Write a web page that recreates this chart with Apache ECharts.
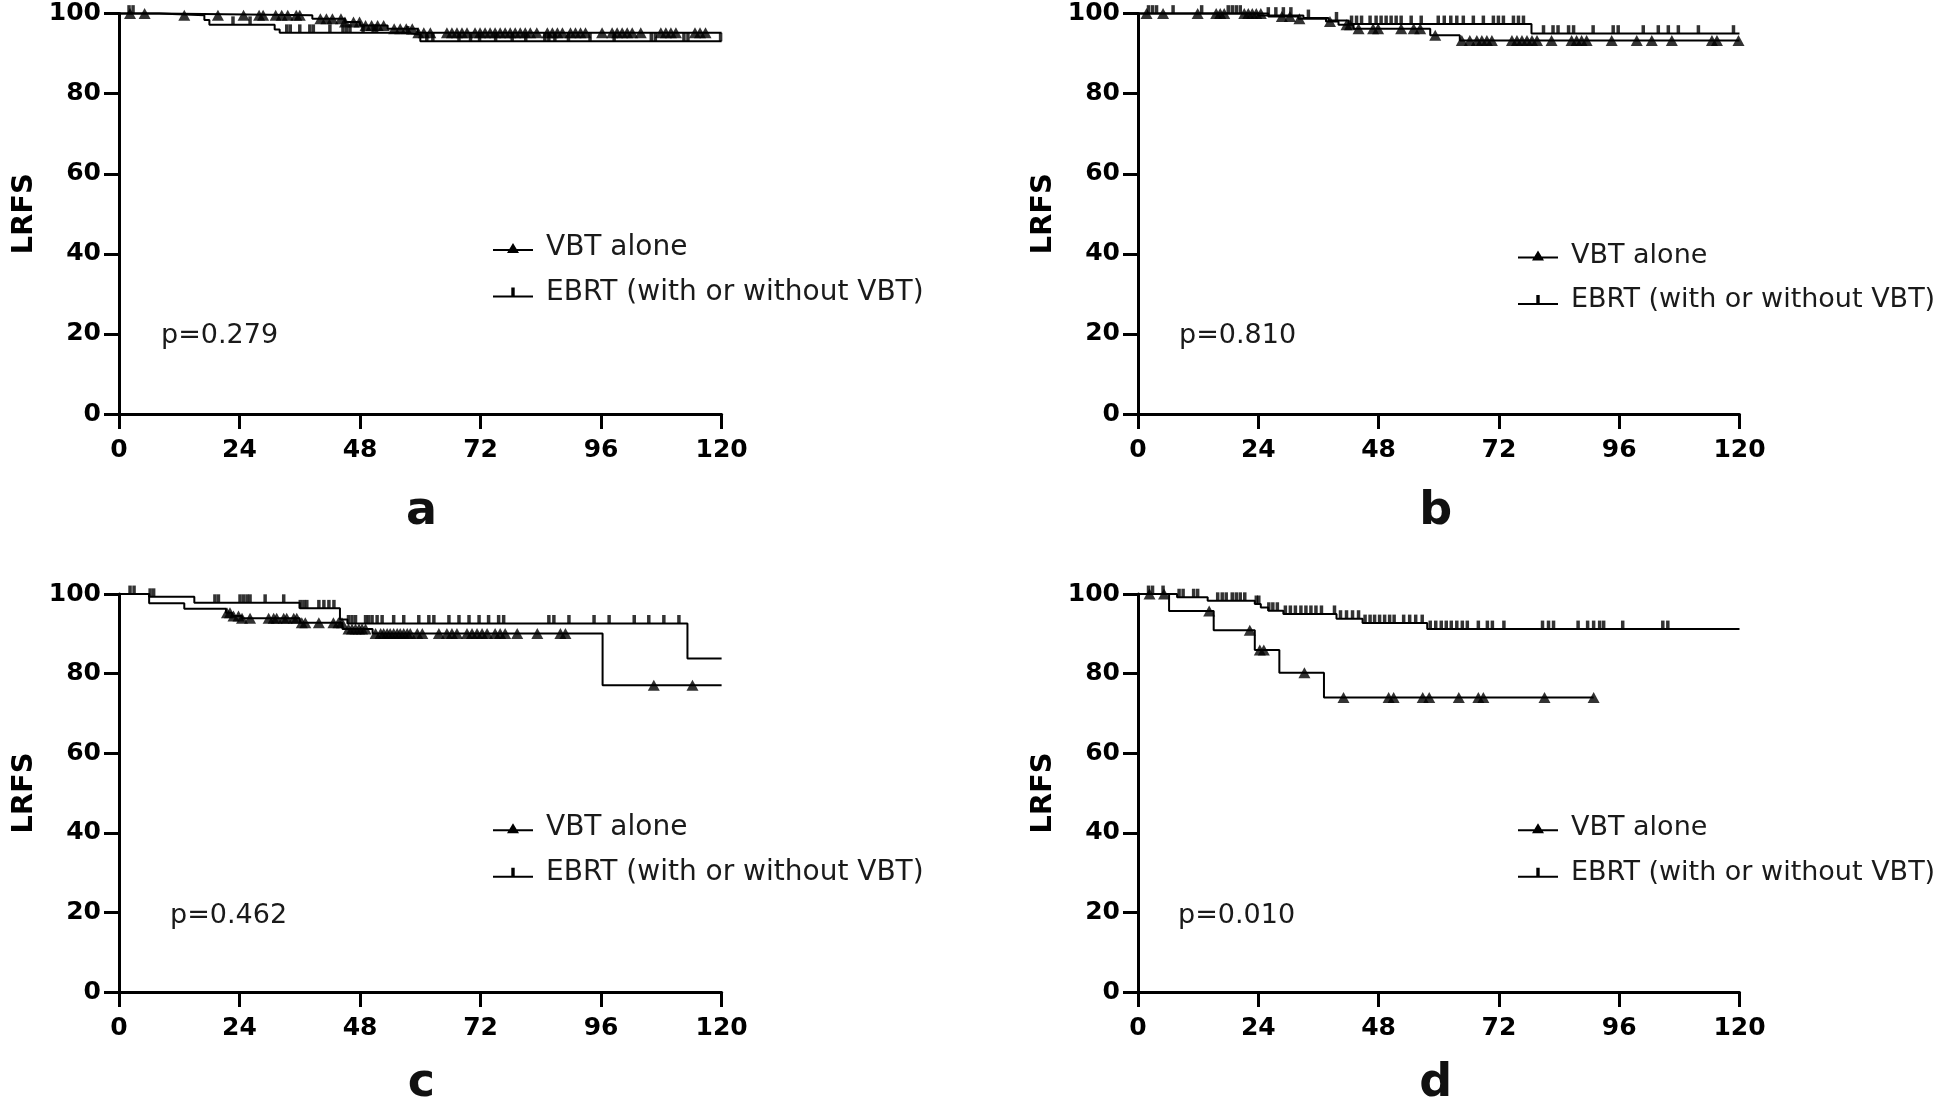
<!DOCTYPE html>
<html><head><meta charset="utf-8">
<script src="https://cdn.jsdelivr.net/npm/echarts@6/dist/echarts.min.js"></script>
<style>html,body{margin:0;padding:0;background:#fff}#c{width:1944px;height:1099px}</style>
</head><body><div id="c"></div>
<script>
// ---------- data ----------
const xTicks = [0, 24, 48, 72, 96, 120];
const yTicks = [0, 20, 40, 60, 80, 100];
const seriesNames = ['VBT alone', 'EBRT (with or without VBT)'];
const panelLetters = ['a', 'b', 'c', 'd'];
const pValues = ['p=0.279', 'p=0.810', 'p=0.462', 'p=0.010'];

// Kaplan-Meier step curves: [month, LRFS %]
const aVbtCurve  = [[0,100],[8,99.6],[38.5,98.7],[45,97.9],[48,97.0],[53.5,96.2],[59.5,95.2],[120,95.2]];
const aEbrtCurve = [[0,100],[8,99.6],[17,98.4],[18,97.2],[31,96.0],[32,95.2],[56.6,94.8],[60,93.1],[120,93.1]];
const aVbtCens  = [2.2,5.1,13,19.7,24.8,27.9,28.7,31.2,32.4,33.6,35.3,36,40.1,41.3,42.5,44.2,45,46.7,47.9,49.1,50.3,51.5,52.7,54.8,56,57.2,58.4,59.6,60.7,62,65.3,66.3,67.3,68.3,69.3,70.9,71.9,72.9,73.9,74.9,75.9,76.9,77.9,78.9,79.9,80.9,81.9,83.2,85.3,86.3,87.3,88.3,89.9,90.9,91.9,92.9,96.2,98.2,99.2,100.2,101.2,102.2,103.9,107.9,108.9,109.9,110.9,114.7,115.7,116.8];
const aEbrtCens = [2.0,2.8,22.7,26.1,33.4,34.1,36,38,38.7,42,44.6,45.3,46,48.6,50.6,51.3,57.5,61.3,62.5,67.7,70,71.8,75,78.3,81,84.8,85.6,86.8,89.5,93.8,98.6,106,106.8,112.5,113.3,119.8];

const bVbtCurve  = [[0,100],[26,99.3],[32,98.7],[37.5,98.0],[40,97.2],[43,96.2],[58.3,94.6],[64.2,93.3],[120,93.3]];
const bEbrtCurve = [[0,100],[24,99.5],[33,98.9],[38,98.3],[42,97.4],[78.5,95.0],[120,95.0]];
const bVbtCens  = [1.7,5,11.9,15.6,16.4,17.2,21.2,22,22.8,23.6,24.5,28.7,30.3,32.2,38.3,41.6,42.3,44,46.9,47.9,52.5,55,56.3,59.3,64.6,66.2,67.6,68.6,69.6,70.6,74.6,75.6,76.6,77.6,78.6,79.6,82.5,86.5,87.5,88.5,89.5,94.5,99.5,102.5,106.5,114.5,115.5,119.8];
const bEbrtCens = [2.1,2.9,3.7,7,12.7,18,18.8,19.6,20.4,26,27.5,29,30.5,34,39.6,42.6,43.6,44.6,46.3,47.5,48.5,49.5,50.5,51.5,52.5,54.5,56.5,59.9,61.1,62.4,63.6,64.9,66.9,68.9,70.9,71.9,72.9,74.9,75.9,76.9,80.9,82.8,83.8,85.9,86.9,90.8,94.8,95.8,100.8,103.8,105.8,107.8,111.8,118.8];

const cVbtCurve  = [[0,100],[6,97.7],[13,96.3],[21.3,95.3],[22.5,94.5],[24.5,93.9],[36,92.8],[44.5,91.2],[50.5,90.1],[96.3,77.1],[120,77.1]];
const cEbrtCurve = [[0,100],[6,99.3],[15,97.8],[36,96.4],[44,93.6],[45.5,92.6],[113.2,83.8],[120,83.8]];
const cVbtCens  = [21.5,22.1,22.8,23.8,24.5,26.1,29.8,30.8,31.4,32.8,33.4,34.8,35.4,36.4,37.1,39.8,42.7,43.7,44.4,45.7,46.4,47.1,47.8,48.4,49.1,51.1,52.1,52.7,53.4,54,54.7,55.4,56,56.7,57.4,58,59.4,60.4,63.7,65.3,66.3,67.3,69.3,70.3,71.3,72.3,73.3,74.9,75.9,76.9,79.3,83.3,87.9,88.9,106.5,114.2];
const cEbrtCens = [2.2,3,6.2,6.9,19.1,19.8,24.1,24.8,25.5,26.1,29.1,32.8,36.1,36.8,37.4,39.8,40.8,41.8,42.8,45.7,46.4,47.1,49.1,49.7,50.4,51.4,52.4,54.7,56.7,59.7,61.7,62.7,65.7,67.7,69.7,71.7,73.6,75.6,76.6,85.6,86.6,89.6,94.6,97.6,102.6,105.5,108.5,111.5];

const dVbtCurve  = [[0,100],[6.2,95.7],[15.1,90.9],[23.3,85.9],[28.2,80.2],[37.1,74.0],[90.9,74.0]];
const dEbrtCurve = [[0,100],[7.8,99.2],[13.9,98.3],[23.3,97.5],[24.5,96.6],[26,95.8],[29,95.0],[39.6,93.8],[44.8,92.7],[57.7,91.2],[120,91.2]];
const dVbtCens  = [2.3,5.2,14.2,22.3,24.3,25.1,33.2,41,50,51,56.8,58.1,64,67.9,68.9,81.1,90.9];
const dEbrtCens = [2.1,2.9,5,8.2,9,11.1,11.9,15.9,16.8,17.6,18.8,19.6,20.4,21.3,23.6,24.1,26.1,26.9,27.8,29.4,30.4,31.4,32.5,33.5,34.5,35.5,36.6,39.2,40.4,41.6,42.8,44,45.3,46.3,47.2,48.2,49.2,50.2,51.1,53,54.2,55.4,56.7,58.3,59.4,60.5,61.5,62.5,63.6,64.7,65.7,67.9,69.7,70.7,73,80.7,81.9,82.9,87.8,89.7,90.9,92.1,92.9,96.7,104.7,105.7];

const panels = [
  {vbt: aVbtCurve, ebrt: aEbrtCurve, vbtC: aVbtCens, ebrtC: aEbrtCens},
  {vbt: bVbtCurve, ebrt: bEbrtCurve, vbtC: bVbtCens, ebrtC: bEbrtCens},
  {vbt: cVbtCurve, ebrt: cEbrtCurve, vbtC: cVbtCens, ebrtC: cEbrtCens},
  {vbt: dVbtCurve, ebrt: dEbrtCurve, vbtC: dVbtCens, ebrtC: dEbrtCens}
];

// ---------- layout ----------
const grids = [
  {left: 119, top: 13.6, width: 602.6, height: 400.4},
  {left: 1138, top: 13.6, width: 601.5, height: 400.4},
  {left: 119, top: 594, width: 602.6, height: 398},
  {left: 1138, top: 594, width: 601.5, height: 398}
];
const legendPos = [[488, 227], [1513, 234.5], [488, 807.2], [1513, 807.2]];
const legendFont = [28, 27, 28, 27];
const pPos = [[161, 336], [1179, 336], [170, 916], [1178, 915.5]];
const letterPos = [[421.5, 512], [1435.7, 512], [421.5, 1084], [1435.7, 1084]];

function stepAt(curve, t) {
  let v = curve[0][1];
  for (const [x, y] of curve) { if (x <= t) v = y; else break; }
  return v;
}

const FONT = 'DejaVu Sans';
const INK = '#000';
const TRI_ICON = 'path://M0,8h40v2h-40z M20,2L26,12L14,12Z';
const TICK_ICON = 'path://M0,10h40v2h-40z M18.3,2h3.4v9h-3.4z';

const series = [];
panels.forEach((p, i) => {
  const common = {xAxisIndex: i, yAxisIndex: i, animation: false, silent: true};
  series.push(Object.assign({
    type: 'line', name: seriesNames[0], step: 'end', data: p.vbt, showSymbol: false, symbol: 'none',
    clip: false, lineStyle: {color: INK, width: 2}, itemStyle: {color: INK}, z: 3
  }, common));
  series.push(Object.assign({
    type: 'line', name: seriesNames[1], step: 'end', data: p.ebrt, showSymbol: false, symbol: 'none',
    clip: false, lineStyle: {color: INK, width: 2}, itemStyle: {color: INK}, z: 3
  }, common));
  series.push(Object.assign({
    type: 'scatter', name: 'vbt-cens-' + i, data: p.vbtC.map(t => [t, stepAt(p.vbt, t)]),
    symbol: 'triangle', symbolSize: [12, 11], clip: false, itemStyle: {color: INK}, z: 5
  }, common));
  series.push(Object.assign({
    type: 'scatter', name: 'ebrt-cens-' + i, data: p.ebrtC.map(t => [t, stepAt(p.ebrt, t)]),
    symbol: 'rect', symbolSize: [3.5, 8.5], symbolOffset: [0, -4.2], clip: false, itemStyle: {color: INK}, z: 4
  }, common));
});

const option = {
  backgroundColor: '#fff',
  animation: false,
  grid: grids.map(g => Object.assign({containLabel: false}, g)),
  xAxis: grids.map((g, i) => ({
    gridIndex: i, type: 'value',
    min: xTicks[0], max: xTicks[xTicks.length - 1], interval: xTicks[1] - xTicks[0],
    axisLine: {show: true, onZero: false, lineStyle: {color: INK, width: 3}},
    axisTick: {show: true, length: 15, lineStyle: {color: INK, width: 3}},
    axisLabel: {margin: 24, color: INK, fontFamily: FONT, fontWeight: 'bold', fontSize: 25},
    splitLine: {show: false}
  })),
  yAxis: grids.map((g, i) => ({
    gridIndex: i, type: 'value',
    min: yTicks[0], max: yTicks[yTicks.length - 1], interval: yTicks[1] - yTicks[0],
    name: 'LRFS', nameLocation: 'middle', nameRotate: 90, nameGap: 80,
    nameTextStyle: {color: INK, fontFamily: FONT, fontWeight: 'bold', fontSize: 29},
    axisLine: {show: true, onZero: false, lineStyle: {color: INK, width: 3}},
    axisTick: {show: true, length: 15, lineStyle: {color: INK, width: 3}},
    axisLabel: {margin: 18, color: INK, fontFamily: FONT, fontWeight: 'bold', fontSize: 25},
    splitLine: {show: false}
  })),
  legend: legendPos.map((pos, i) => ({
    left: pos[0], top: pos[1], orient: 'vertical',
    itemWidth: 40, itemHeight: 10, itemGap: 12.5, selectedMode: false,
    data: [{name: seriesNames[0], icon: TRI_ICON}, {name: seriesNames[1], icon: TICK_ICON}],
    itemStyle: {color: INK},
    textStyle: {fontFamily: FONT, fontSize: legendFont[i], color: '#1a1a1a', lineHeight: 32, padding: [0, 0, 0, 8]}
  })),
  graphic: [
    ...pValues.map((p, i) => ({
      type: 'text', x: pPos[i][0], y: pPos[i][1], silent: true,
      style: {text: p, fontFamily: FONT, fontSize: 27, fill: '#1a1a1a', align: 'left', verticalAlign: 'middle'}
    })),
    ...panelLetters.map((l, i) => ({
      type: 'text', x: letterPos[i][0], y: letterPos[i][1], silent: true,
      style: {text: l, fontFamily: FONT, fontWeight: 'bold', fontSize: 46, fill: '#111', align: 'center', verticalAlign: 'middle'}
    }))
  ],
  series: series
};

const chart = echarts.init(document.getElementById('c'), null, {renderer: 'canvas', width: 1944, height: 1099});
chart.setOption(option);
</script>
</body></html>
